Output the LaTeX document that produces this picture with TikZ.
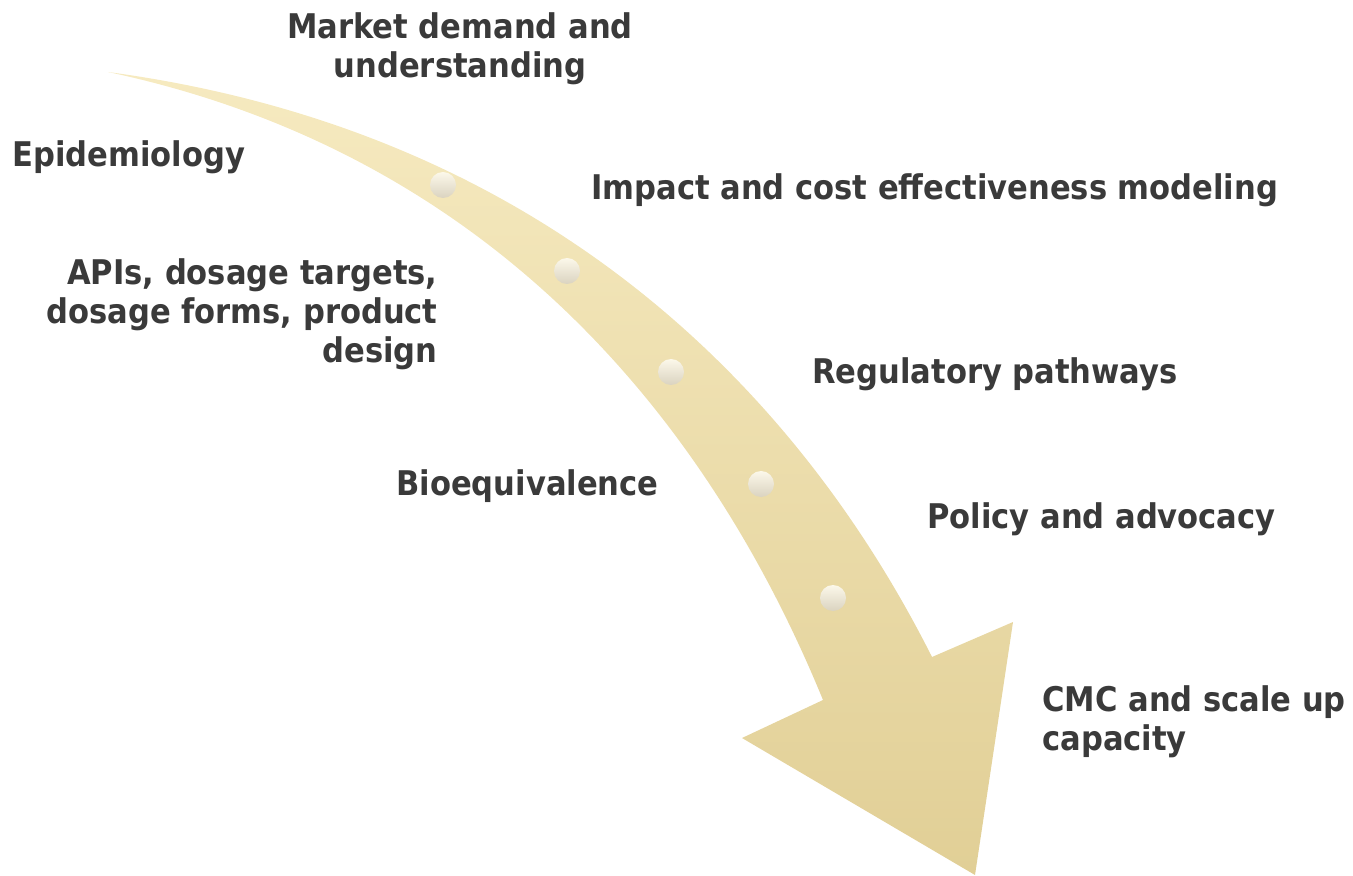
\documentclass[tikz,border=0pt]{standalone}
\usepackage{fontspec}
\setmainfont{DejaVu Sans Condensed}
\usepackage{tikz}
\definecolor{txtgray}{HTML}{3A3A3A}
\definecolor{bandtop}{HTML}{F6EAC0}
\definecolor{bandbot}{HTML}{E1CF96}
\definecolor{dottop}{HTML}{FCF8EA}
\definecolor{dotbot}{HTML}{DAD3C0}
\tikzset{
  font={\fontsize{17pt}{19.5pt}\selectfont\bfseries},
  step label/.style={text=txtgray, inner sep=0pt},
  bead/.style={circle, minimum size=13pt, inner sep=0pt, top color=dottop, bottom color=dotbot}}

\begin{document}
\begin{tikzpicture}[x=0.5pt,y=-0.5pt]
\useasboundingbox (0,0) rectangle (1353,876);
% the curved arrow
\shade [top color=bandtop, bottom color=bandbot]
  (108,72) .. controls (540,130) and (795,385) .. (932,657)
  -- (1013,622) -- (975,875) -- (742,738) -- (823,700)
  .. controls (700,400) and (475,150) .. (108,72) -- cycle;
% beads along the arrow
\node [bead] (b1) at (443,185) {};
\node [bead] (b2) at (567,271) {};
\node [bead] (b3) at (671,372) {};
\node [bead] (b4) at (761,484) {};
\node [bead] (b5) at (833,598) {};
% labels
\node [step label, align=center] (market) at (460,49) {Market demand and\\understanding};
\node [step label, anchor=west] (epi) at (12,157) {Epidemiology};
\node [step label, anchor=west] (impact) at (591,190) {Impact and cost effectiveness modeling};
\node [step label, anchor=east, align=right] (api) at (438,314) {APIs, dosage targets,\\dosage forms, product\\design};
\node [step label, anchor=west] (reg) at (812,374) {Regulatory pathways};
\node [step label, anchor=west] (bio) at (396,486) {Bioequivalence};
\node [step label, anchor=west] (policy) at (927,519) {Policy and advocacy};
\node [step label, anchor=west, align=left] (cmc) at (1042,722) {CMC and scale up\\capacity};
\end{tikzpicture}
\end{document}
